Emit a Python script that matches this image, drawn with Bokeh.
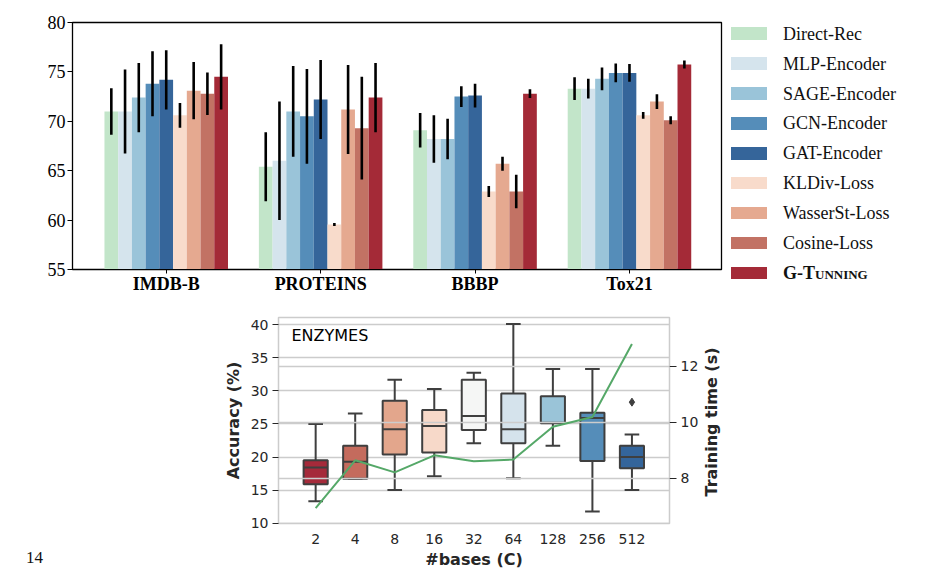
import numpy as np
from bokeh.plotting import figure
from bokeh.models import Range1d, LinearAxis, FixedTicker, Grid, Label, Div, ColumnDataSource
from bokeh.layouts import row, column
from bokeh.embed import file_html
from bokeh.resources import INLINE

# ---------------- data: top grouped bar chart ----------------
datasets = ["IMDB-B", "PROTEINS", "BBBP", "Tox21"]
methods = ["Direct-Rec", "MLP-Encoder", "SAGE-Encoder", "GCN-Encoder", "GAT-Encoder",
           "KLDiv-Loss", "WasserSt-Loss", "Cosine-Loss", "G-Tunning"]
method_colors = ["#c2e5c9", "#d5e4ed", "#9ac4d9", "#558db9", "#35659a",
                 "#f8dbcb", "#e5a990", "#c27264", "#a42a37"]

direct_rec = [71.0, 65.4, 69.1, 73.3]
direct_rec_err = [2.35, 3.5, 1.75, 1.15]
mlp_encoder = [71.0, 66.0, 68.2, 73.3]
mlp_encoder_err = [4.25, 6.0, 2.4, 1.0]
sage_encoder = [72.4, 71.0, 68.2, 74.3]
sage_encoder_err = [3.5, 4.6, 2.05, 1.15]
gcn_encoder = [73.8, 70.5, 72.5, 74.9]
gcn_encoder_err = [3.3, 4.8, 1.05, 0.95]
gat_encoder = [74.2, 72.2, 72.6, 74.9]
gat_encoder_err = [3.0, 4.0, 1.2, 0.9]
kldiv_loss = [70.6, 59.55, 62.9, 70.6]
kldiv_loss_err = [1.25, 0.15, 0.55, 0.35]
wasserst_loss = [73.1, 71.2, 65.7, 72.0]
wasserst_loss_err = [2.9, 4.5, 0.7, 0.75]
cosine_loss = [72.8, 69.3, 62.9, 70.1]
cosine_loss_err = [2.15, 5.2, 1.7, 0.4]
g_tuning = [74.5, 72.4, 72.8, 75.75]
g_tuning_err = [3.3, 3.5, 0.45, 0.4]

bar_means = [direct_rec, mlp_encoder, sage_encoder, gcn_encoder, gat_encoder,
             kldiv_loss, wasserst_loss, cosine_loss, g_tuning]
bar_errs = [direct_rec_err, mlp_encoder_err, sage_encoder_err, gcn_encoder_err, gat_encoder_err,
            kldiv_loss_err, wasserst_loss_err, cosine_loss_err, g_tuning_err]
bar_yticks = [55, 60, 65, 70, 75, 80]

# ---------------- data: bottom box plot (ENZYMES) ----------------
bases = ["2", "4", "8", "16", "32", "64", "128", "256", "512"]
box_colors = ["#a52a3a", "#c46b5d", "#e3a68c", "#f7d9c9", "#f5f6f5",
              "#d5e3ec", "#9ac4d8", "#558db9", "#34659b"]
whisker_low = [13.3, 16.7, 15.0, 17.1, 22.1, 16.8, 21.7, 11.75, 15.0]
q1 = [15.9, 16.7, 20.4, 20.7, 24.1, 22.1, 25.1, 19.4, 18.3]
median = [18.4, 19.3, 24.2, 24.7, 26.2, 24.2, 25.2, 25.9, 20.0]
q3 = [19.5, 21.7, 28.5, 27.1, 31.7, 29.6, 29.2, 26.7, 21.7]
whisker_high = [25.0, 26.6, 31.7, 30.3, 32.75, 40.1, 33.3, 33.3, 23.4]
outlier_base = ["512"]
outlier_value = [28.3]
train_time = [6.93, 8.64, 8.21, 8.82, 8.61, 8.67, 9.84, 10.19, 12.80]
acc_ticks = [10, 15, 20, 25, 30, 35, 40]
time_ticks = [8, 10, 12]

# ================= top bar chart =================
p1 = figure(width=723, height=304, x_range=Range1d(-0.607, 3.596), y_range=Range1d(55, 80),
            toolbar_location=None, output_backend="svg",
            min_border_left=72, min_border_right=2, min_border_top=22, min_border_bottom=35)
p1.xgrid.visible = False
p1.ygrid.visible = False
p1.outline_line_color = "black"
p1.outline_line_width = 1.3
p1.background_fill_color = "white"

n_m = len(methods)
bw = 0.8 / n_m
cat_x = np.arange(len(datasets))
for j, (name, col) in enumerate(zip(methods, method_colors)):
    xs = cat_x + (j - (n_m - 1) / 2) * bw
    m = np.array(bar_means[j])
    e = np.array(bar_errs[j])
    src = ColumnDataSource(dict(x=xs, top=m, lo=m - e, hi=m + e))
    p1.vbar(x="x", top="top", bottom=55, width=bw, source=src, fill_color=col, line_color=None)
    p1.segment(x0="x", y0="lo", x1="x", y1="hi", source=src, line_color="black", line_width=2.6)

p1.xaxis.ticker = FixedTicker(ticks=list(cat_x))
p1.xaxis.major_label_overrides = {int(i): d for i, d in zip(cat_x, datasets)}
p1.xaxis.major_label_text_font = "Liberation Serif"
p1.xaxis.major_label_text_font_style = "bold"
p1.xaxis.major_label_text_font_size = "18px"
p1.xaxis.major_label_text_color = "black"
p1.xaxis.major_tick_out = 4
p1.xaxis.major_tick_in = 0
p1.xaxis.minor_tick_out = 0
p1.xaxis.major_label_standoff = 0
p1.yaxis.ticker = FixedTicker(ticks=bar_yticks)
p1.yaxis.major_label_text_font = "Liberation Serif"
p1.yaxis.major_label_text_font_size = "18px"
p1.yaxis.major_label_text_color = "black"
p1.yaxis.major_tick_out = 5
p1.yaxis.major_tick_in = 0
p1.yaxis.minor_tick_out = 0
p1.yaxis.minor_tick_in = 0
p1.yaxis.major_label_standoff = 2
p1.axis.axis_line_color = "black"
p1.axis.major_tick_line_color = "black"

# ================= legend panel (HTML) =================
items = []
for i, (name, col) in enumerate(zip(methods, method_colors)):
    cy = 33.7 + 29.9 * i
    extra = "font-weight:bold;font-variant:small-caps;" if i == n_m - 1 else ""
    items.append(
        f'<div style="position:absolute;left:8px;top:{cy - 6.35:.1f}px;width:36px;height:12.7px;'
        f'background:{col};"></div>'
        f'<div style="position:absolute;left:60px;top:{cy - 10:.1f}px;height:20px;line-height:20px;'
        f'font-family:\'Liberation Serif\';font-size:18px;color:#111;white-space:nowrap;{extra}">{name}</div>')
legend_div = Div(text='<div style="position:relative;width:204px;height:304px;">' + "".join(items) + '</div>',
                 width=204, height=304, margin=0)

# ================= bottom box plot =================
GREY = "#3f3f3f"
TXT = "#262626"
p2 = figure(width=517, height=267, x_range=Range1d(-0.94, 8.95), y_range=Range1d(9.95, 41.1),
            toolbar_location=None, output_backend="svg",
            min_border_left=90, min_border_right=36, min_border_top=13, min_border_bottom=45)
p2.extra_y_ranges = {"time": Range1d(6.38, 13.75)}
p2.outline_line_color = "#cccccc"
p2.outline_line_width = 1.5
p2.xgrid.visible = False
p2.ygrid.ticker = FixedTicker(ticks=acc_ticks)
p2.ygrid.grid_line_color = "#cccccc"
p2.ygrid.grid_line_width = 1.5

bx = np.arange(len(bases))
box_w = 0.61
cap_w = 0.37
bsrc = ColumnDataSource(dict(x=bx, lo=whisker_low, q1=q1, med=median, q3=q3, hi=whisker_high,
                             color=box_colors, cl=bx - cap_w / 2, cr=bx + cap_w / 2,
                             ml=bx - box_w / 2, mr=bx + box_w / 2))
p2.segment(x0="x", y0="q3", x1="x", y1="hi", source=bsrc, line_color=GREY, line_width=2)
p2.segment(x0="x", y0="q1", x1="x", y1="lo", source=bsrc, line_color=GREY, line_width=2)
p2.segment(x0="cl", y0="hi", x1="cr", y1="hi", source=bsrc, line_color=GREY, line_width=2)
p2.segment(x0="cl", y0="lo", x1="cr", y1="lo", source=bsrc, line_color=GREY, line_width=2)
p2.vbar(x="x", bottom="q1", top="q3", width=box_w, source=bsrc, fill_color="color",
        line_color=GREY, line_width=2)
p2.segment(x0="ml", y0="med", x1="mr", y1="med", source=bsrc, line_color=GREY, line_width=2)
ox = [bases.index(b) for b in outlier_base]
p2.scatter(x=ox, y=outlier_value, marker="diamond", size=8, fill_color=GREY, line_color=GREY)

tgrid = Grid(dimension=1, ticker=FixedTicker(ticks=time_ticks), y_range_name="time",
             grid_line_color="#cccccc", grid_line_width=1.5, level="annotation")
p2.add_layout(tgrid)
tl = p2.line(x=bx, y=train_time, y_range_name="time", line_color="#55a868", line_width=2)
tl.level = "overlay"

p2.xaxis.ticker = FixedTicker(ticks=list(bx))
p2.xaxis.major_label_overrides = {int(i): b for i, b in zip(bx, bases)}
p2.xaxis.major_tick_out = 0
p2.xaxis.major_tick_in = 0
p2.xaxis.minor_tick_out = 0
p2.xaxis.major_label_standoff = 10
p2.xaxis.axis_line_color = None
p2.xaxis.axis_label = "#bases (C)"
p2.xaxis.axis_label_standoff = 3

p2.yaxis.ticker = FixedTicker(ticks=acc_ticks)
p2.yaxis.axis_label = "Accuracy (%)"
p2.yaxis.axis_line_color = None
p2.yaxis.major_tick_out = 6
p2.yaxis.major_tick_in = 0
p2.yaxis.minor_tick_out = 0
p2.yaxis.minor_tick_in = 0
p2.yaxis.major_label_standoff = 4
p2.yaxis.axis_label_standoff = 5

ry = LinearAxis(y_range_name="time", ticker=FixedTicker(ticks=time_ticks))
ry.axis_line_color = None
ry.major_tick_out = 7
ry.major_tick_in = 0
ry.minor_tick_out = 0
ry.minor_tick_in = 0
ry.major_label_standoff = 4
p2.add_layout(ry, "right")

for ax in p2.axis:
    ax.major_label_text_font = "DejaVu Sans"
    ax.major_label_text_font_size = "14px"
    ax.major_label_text_color = TXT
    ax.major_tick_line_color = TXT
    ax.axis_label_text_font = "DejaVu Sans"
    ax.axis_label_text_font_style = "bold"
    ax.axis_label_text_font_size = "16px"
    ax.axis_label_text_color = TXT

p2.add_layout(Label(x=13, y=188, x_units="screen", y_units="screen", text="ENZYMES",
                    text_font="DejaVu Sans", text_font_size="16px", text_color="black",
                    text_baseline="alphabetic"))

right_label = Div(text='<div style="position:relative;width:30px;height:267px;">'
                       '<div style="position:absolute;left:7px;top:118px;transform:translate(-50%,-50%) rotate(-90deg);'
                       'white-space:nowrap;font-family:\'DejaVu Sans\';font-weight:bold;font-size:16px;'
                       'line-height:16px;color:#262626;">Training time (s)</div></div>',
                  width=30, height=267, margin=0)

page_num = Div(text='<div style="padding:245px 0 0 26px;font-family:\'Liberation Serif\';'
                    'font-size:17px;line-height:17px;color:#111;">14</div>',
               width=188, height=267, margin=0)

layout = column(row(p1, legend_div), row(page_num, p2, right_label))
open("out.html", "w").write(file_html(layout, INLINE))
